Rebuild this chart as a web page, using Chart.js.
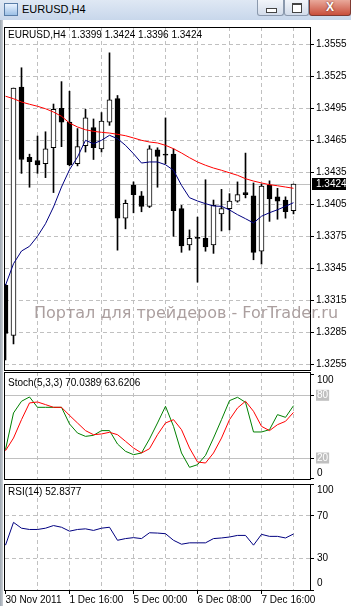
<!DOCTYPE html>
<html>
<head>
<meta charset="utf-8">
<script src="https://cdn.jsdelivr.net/npm/chart.js@4.4.0/dist/chart.umd.min.js"></script>
<style>
  body { margin: 0; width: 351px; height: 606px; overflow: hidden; background: #fff; position: relative;
         font-family: "Liberation Sans", Arial, sans-serif; }
  .abs { position: absolute; }
  .titlebar { left: 0; top: 0; width: 351px; height: 20px; background: linear-gradient(#dfe8f4, #c8d7eb); }
  .leftedge { left: 0; top: 20px; width: 3px; height: 586px; background: linear-gradient(90deg, #9da6b0, #c9ced4); }
  .icon { left: 4px; top: 3px; width: 12px; height: 11px; border: 1px solid #5a7ea8; background: linear-gradient(#eaf3ff, #9cc0e6); }
  .title { left: 22px; top: 3px; font-size: 11px; line-height: 13px; color: #000; }
  .btn { top: 0; height: 16px; border: 1px solid #8b99ad; border-top: none; border-radius: 0 0 3px 3px;
         background: linear-gradient(#f2f5fa, #d3dcea); box-sizing: border-box; }
  .close { background: linear-gradient(#e9a99b, #c94f3c); border-color: #7f3a32; color: #fff; font-weight: bold;
           font-size: 12px; text-align: center; line-height: 15px; text-shadow: 0 0 2px #5a1a10; }
  .frame { border: 1px solid #000; pointer-events: none; }
  .label { font-size: 10px; line-height: 12px; color: #000; white-space: pre; }
  .mark { font-family: "DejaVu Sans", sans-serif; font-size: 16px; line-height: 16px; color: #ab9f9f; white-space: pre; }
  canvas { position: absolute; left: 0; }
</style>
</head>
<body>
<div class="abs titlebar"></div>
<div class="abs icon"></div>
<div class="abs title">EURUSD,H4</div>
<div class="abs btn" style="left:257px;width:27px;"><div class="abs" style="left:8px;top:8px;width:9px;height:3px;border:1px solid #444;background:#fff;"></div></div>
<div class="abs btn" style="left:284px;width:25px;"><div class="abs" style="left:7px;top:3px;width:8px;height:7px;border:1px solid #444;border-top-width:2px;background:#fff;"></div></div>
<div class="abs btn close" style="left:309px;width:42px;">X</div>
<div class="abs leftedge"></div>

<canvas id="mainChart" width="351" height="344" style="top:27px"></canvas>
<canvas id="stochChart" width="351" height="108" style="top:372px"></canvas>
<canvas id="rsiChart" width="351" height="122" style="top:484px"></canvas>

<div class="abs frame" style="left:4px;top:27px;width:305px;height:342px;"></div>
<div class="abs frame" style="left:4px;top:372px;width:305px;height:106px;"></div>
<div class="abs frame" style="left:4px;top:484px;width:305px;height:105px;"></div>

<div class="abs mark" style="left:34px;top:305px;">Портал для трейдеров - ForTrader.ru</div>
<div class="abs label" id="mainHead" style="left:8px;top:29px;"></div>
<div class="abs label" id="stochHead" style="left:8px;top:377px;"></div>
<div class="abs label" id="rsiHead" style="left:8px;top:486px;"></div>

<script>
// EURUSD H4 candles, oldest first
const opens  = [1.3329, 1.3282, 1.3515, 1.3449, 1.3446, 1.3443, 1.3458, 1.3495, 1.3482, 1.3443,
                1.3460, 1.3477, 1.3457, 1.3482, 1.3504, 1.3392, 1.3423, 1.3413, 1.3403, 1.3456,
                1.3452, 1.3452, 1.3401, 1.3367, 1.3374, 1.3373, 1.3367, 1.3396, 1.3401, 1.3408,
                1.3416, 1.3413, 1.3361, 1.3423, 1.3412, 1.3409, 1.3399];
const highs  = [1.3330, 1.3514, 1.3533, 1.3452, 1.3469, 1.3473, 1.3499, 1.3520, 1.3511, 1.3476,
                1.3494, 1.3485, 1.3491, 1.3547, 1.3507, 1.3409, 1.3426, 1.3417, 1.3460, 1.3458,
                1.3486, 1.3457, 1.3404, 1.3381, 1.3393, 1.3428, 1.3409, 1.3419, 1.3415, 1.3426,
                1.3453, 1.3425, 1.3424, 1.3427, 1.3420, 1.3412, 1.3424];
const lows   = [1.3259, 1.3274, 1.3434, 1.3421, 1.3434, 1.3430, 1.3416, 1.3459, 1.3441, 1.3441,
                1.3454, 1.3447, 1.3454, 1.3479, 1.3362, 1.3382, 1.3397, 1.3398, 1.3402, 1.3421,
                1.3443, 1.3375, 1.3360, 1.3362, 1.3332, 1.3361, 1.3359, 1.3380, 1.3381, 1.3407,
                1.3411, 1.3353, 1.3349, 1.3389, 1.3391, 1.3392, 1.3396];
const closes = [1.3284, 1.3514, 1.3447, 1.3445, 1.3442, 1.3457, 1.3494, 1.3482, 1.3442, 1.3459,
                1.3486, 1.3458, 1.3483, 1.3503, 1.3392, 1.3406, 1.3414, 1.3403, 1.3457, 1.3450,
                1.3451, 1.3399, 1.3366, 1.3373, 1.3373, 1.3365, 1.3404, 1.3401, 1.3408, 1.3414,
                1.3414, 1.3360, 1.3422, 1.3410, 1.3408, 1.3398, 1.3424];

// moving averages on the price chart
const maSlow = [1.35063, 1.35040, 1.35009, 1.34988, 1.34969, 1.34946, 1.34915, 1.34875, 1.34812, 1.34775,
                1.34749, 1.34734, 1.34725, 1.34718, 1.34706, 1.34693, 1.34672, 1.34650, 1.34634, 1.34625,
                1.34603, 1.34571, 1.34531, 1.34487, 1.34447, 1.34416, 1.34390, 1.34369, 1.34345, 1.34322,
                1.34290, 1.34268, 1.34250, 1.34234, 1.34224, 1.34212, 1.34200];
const maFast = [1.33291, 1.33493, 1.33612, 1.33656, 1.33750, 1.33868, 1.34025, 1.34212, 1.34374, 1.34493,
                1.34650, 1.34618, 1.34650, 1.34697, 1.34665, 1.34603, 1.34524, 1.34437, 1.34447, 1.34447,
                1.34421, 1.34369, 1.34228, 1.34112, 1.34081, 1.34056, 1.34034, 1.34031, 1.33997, 1.33953,
                1.33915, 1.33875, 1.33938, 1.33971, 1.33999, 1.34031, 1.34065];

// Stochastic (5,3,3)
const stochMain   = [28, 63.1, 74.3, 78.4, 68.5, 68.5, 68.5, 68.5, 52.6, 43.9,
                     40.7, 41.7, 46.2, 46.2, 33.4, 26.4, 23.2, 24.8, 38.2, 53.5,
                     69.5, 50.3, 24.8, 11.1, 13.6, 22.5, 39.1, 56.7, 74.9, 78.1,
                     73.3, 44.9, 44.9, 47.1, 61.5, 58.9, 70.0389];
const stochSignal = [27, 39.1, 56.7, 72.7, 73.6, 71.1, 68.5, 68.5, 60.8, 53.5,
                     46.2, 42.3, 43, 44.6, 42.3, 36, 29.6, 24.8, 28.9, 42.3,
                     53.5, 56.7, 47.1, 29.6, 16.2, 15.2, 24.8, 39.1, 56.7, 67.9,
                     74.3, 64.7, 50.3, 46.2, 51.9, 55.1, 63.6206];

// RSI (14)
const rsi = [42.3, 63.8, 58.3, 57.1, 57.1, 58.3, 60.8, 59.2, 55.5, 57.1,
             57.7, 56.2, 58.3, 59.2, 46.9, 48.5, 49.4, 48.5, 54, 53.7,
             53.1, 46.9, 43.2, 44.5, 44.5, 44.5, 48.5, 49.1, 50, 51.5,
             51.5, 42.3, 52.5, 50.6, 50.6, 49.1, 52.8377];

// axis labels
const priceTicks = [1.3255, 1.3285, 1.3315, 1.3345, 1.3375, 1.3405, 1.3435, 1.3465, 1.3495, 1.3525, 1.3555];
const dateLabels = ['30 Nov 2011', '1 Dec 16:00', '5 Dec 00:00', '6 Dec 08:00', '7 Dec 16:00'];
const dateIdx    = [0, 8, 16, 24, 32];
const gridIdx    = [0, 4, 8, 12, 16, 20, 24, 28, 32, 36];
const stochTicks = [0, 20, 80, 100];
const rsiTicks   = [0, 30, 70, 100];

Chart.defaults.font.family = '"Liberation Sans", Arial, sans-serif';
Chart.defaults.font.size = 10;
Chart.defaults.color = '#000';

const GRID = '#c0c0c0';
const last = closes.length - 1;
const fmt = v => v.toFixed(4);

document.getElementById('mainHead').textContent =
  'EURUSD,H4  ' + [opens[last], highs[last], lows[last], closes[last]].map(fmt).join(' ');
document.getElementById('stochHead').textContent =
  'Stoch(5,3,3) ' + stochMain[last].toFixed(4) + ' ' + stochSignal[last].toFixed(4);
document.getElementById('rsiHead').textContent = 'RSI(14) ' + rsi[last].toFixed(4);

const pts = arr => arr.map((v, i) => ({ x: i, y: v }));

function noPad(s) {
  s.paddingTop = 0; s.paddingBottom = 0; s.paddingLeft = 0; s.paddingRight = 0;
}

// shared x axis: one candle every 8px, dashed grid every 4 candles
function xAxis(showLabels) {
  return {
    type: 'linear',
    offset: false,
    min: -0.0625,
    max: 38.0625,
    afterBuildTicks: s => { s.ticks = gridIdx.map(v => ({ value: v })); },
    ticks: {
      display: showLabels,
      autoSkip: false,
      maxRotation: 0,
      align: 'start',
      padding: 0,
      callback: v => {
        const k = dateIdx.indexOf(v);
        return k >= 0 ? dateLabels[k] : '';
      }
    },
    grid: {
      offset: false,
      color: c => (c.tick && c.tick.value === 0) ? 'transparent' : GRID,
      drawTicks: showLabels,
      tickLength: 4,
      tickColor: c => (c.tick && dateIdx.includes(c.tick.value)) ? '#000' : 'transparent'
    },
    border: { display: false, dash: [4, 3] },
    afterFit: s => { s.height = showLabels ? 16 : 0; noPad(s); }
  };
}

const baseOptions = {
  responsive: false,
  animation: false,
  events: [],
  layout: { padding: { left: 5, right: 0, top: 0, bottom: 0 } },
  plugins: { legend: { display: false }, tooltip: { enabled: false } }
};

// grey line and black box for the latest close
const lastPrice = {
  id: 'lastPrice',
  beforeDatasetsDraw(chart) {
    const { ctx, chartArea, scales: { y } } = chart;
    const py = Math.round(y.getPixelForValue(closes[last])) + 0.5;
    ctx.save();
    ctx.strokeStyle = GRID;
    ctx.lineWidth = 1;
    ctx.beginPath();
    ctx.moveTo(chartArea.left, py);
    ctx.lineTo(chartArea.right, py);
    ctx.stroke();
    ctx.restore();
  },
  afterDraw(chart) {
    const { ctx, chartArea, scales: { y } } = chart;
    const py = Math.round(y.getPixelForValue(closes[last]));
    ctx.save();
    ctx.fillStyle = '#000';
    ctx.fillRect(chartArea.right + 2, py - 6, 34, 12);
    ctx.fillStyle = '#fff';
    ctx.font = '10px "Liberation Sans", Arial, sans-serif';
    ctx.textBaseline = 'middle';
    ctx.fillText(fmt(closes[last]), chartArea.right + 6, py + 0.5);
    ctx.restore();
  }
};

new Chart(document.getElementById('mainChart'), {
  data: {
    datasets: [
      { type: 'line', data: pts(maFast), borderColor: '#000080', borderWidth: 1, pointRadius: 0, tension: 0, order: 0 },
      { type: 'line', data: pts(maSlow), borderColor: '#ff0000', borderWidth: 1, pointRadius: 0, tension: 0, order: 1 },
      {
        type: 'bar',
        data: opens.map((o, i) => ({ x: i, y: [o, closes[i] === o ? o - 0.0001 : closes[i]] })),
        backgroundColor: opens.map((o, i) => closes[i] > o ? '#fff' : '#000'),
        borderColor: '#000',
        borderWidth: 1,
        borderSkipped: false,
        barThickness: 5,
        grouped: false,
        order: 2
      },
      {
        type: 'bar',
        data: lows.map((l, i) => ({ x: i, y: [l, highs[i]] })),
        backgroundColor: '#000',
        borderWidth: 0,
        barThickness: 1,
        grouped: false,
        order: 3
      }
    ]
  },
  options: {
    ...baseOptions,
    scales: {
      x: xAxis(false),
      y: {
        position: 'right',
        min: 1.324872,
        max: 1.357122,
        afterBuildTicks: s => { s.ticks = priceTicks.map(v => ({ value: v })); },
        ticks: { callback: v => fmt(v), padding: 2 },
        grid: { color: GRID, tickColor: '#000', tickLength: 4 },
        border: { display: false, dash: [4, 3] },
        afterFit: s => { s.width = 41; noPad(s); }
      }
    }
  },
  plugins: [lastPrice]
});

new Chart(document.getElementById('stochChart'), {
  data: {
    datasets: [
      { type: 'line', data: pts(stochMain), borderColor: '#008000', borderWidth: 1, pointRadius: 0, tension: 0, order: 1 },
      { type: 'line', data: pts(stochSignal), borderColor: '#ff0000', borderWidth: 1, pointRadius: 0, tension: 0, order: 0 }
    ]
  },
  options: {
    ...baseOptions,
    scales: {
      x: xAxis(false),
      y: {
        position: 'right',
        min: -1.05,
        max: 102.3,
        afterBuildTicks: s => { s.ticks = stochTicks.map(v => ({ value: v })); },
        ticks: {
          padding: 3,
          font: { size: 10, lineHeight: 1.1 },
          callback: v => v === 100 ? ['', '100'] : v === 0 ? ['0', ''] : String(v),
          color: c => (c.tick.value === 20 || c.tick.value === 80) ? '#fff' : '#000',
          showLabelBackdrop: c => c.tick.value === 20 || c.tick.value === 80,
          backdropColor: GRID,
          backdropPadding: { top: 0, bottom: 0, left: 1, right: 1 }
        },
        grid: {
          color: c => (c.tick.value === 20 || c.tick.value === 80) ? GRID : 'transparent',
          tickColor: '#000',
          tickLength: 4
        },
        border: { display: false },
        afterFit: s => { s.width = 41; noPad(s); }
      }
    }
  }
});

new Chart(document.getElementById('rsiChart'), {
  data: {
    datasets: [
      { type: 'line', data: pts(rsi), borderColor: '#000080', borderWidth: 1, pointRadius: 0, tension: 0 }
    ]
  },
  options: {
    ...baseOptions,
    scales: {
      x: xAxis(true),
      y: {
        position: 'right',
        min: 0,
        max: 100,
        afterBuildTicks: s => { s.ticks = rsiTicks.map(v => ({ value: v })); },
        ticks: {
          padding: 3,
          font: { size: 10, lineHeight: 1.3 },
          callback: v => v === 100 ? ['', '100'] : v === 0 ? ['0', ''] : String(v)
        },
        grid: {
          color: c => (c.tick.value === 30 || c.tick.value === 70) ? GRID : 'transparent',
          tickColor: '#000',
          tickLength: 4
        },
        border: { display: false, dash: [4, 3] },
        afterFit: s => { s.width = 41; noPad(s); }
      }
    }
  }
});
</script>
</body>
</html>
